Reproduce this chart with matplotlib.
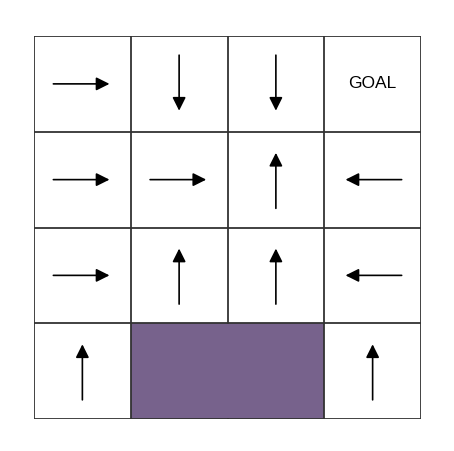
import numpy as np
import matplotlib.pyplot as plt
from matplotlib.patches import Rectangle

# policy grid: R, L, U, D, G (goal), X (wall)
policy = [
    ['R', 'D', 'D', 'G'],
    ['R', 'R', 'U', 'L'],
    ['R', 'U', 'U', 'L'],
    ['U', 'X', 'X', 'U'],
]
n_rows, n_cols = 4, 4
wall_color = '#77628c'
line_color = '#333333'

dirs = {'R': (1, 0), 'L': (-1, 0), 'U': (0, 1), 'D': (0, -1)}

fig = plt.figure(figsize=(4.54, 4.51), dpi=100)
ax = fig.add_axes([34/454, 32/451, 387/454, 383/451])
ax.set_xlim(0, n_cols)
ax.set_ylim(0, n_rows)

def is_wall(r, c):
    return 0 <= r < n_rows and 0 <= c < n_cols and policy[r][c] == 'X'

for r in range(n_rows):
    for c in range(n_cols):
        x, y = c, n_rows - 1 - r
        a = policy[r][c]
        if a == 'X':
            ax.add_patch(Rectangle((x, y), 1, 1, facecolor=wall_color, edgecolor='none', zorder=1))
            continue
        cx, cy = x + 0.5, y + 0.5
        if a == 'G':
            ax.text(cx, cy, 'GOAL', ha='center', va='center', fontsize=12.5,
                    family=['Liberation Sans', 'DejaVu Sans'])
            continue
        dx, dy = dirs[a]
        ax.annotate('', xy=(cx + 0.28*dx, cy + 0.28*dy),
                    xytext=(cx - 0.3*dx, cy - 0.3*dy),
                    arrowprops=dict(arrowstyle='-|>', color='black', lw=1.2,
                                    mutation_scale=20, shrinkA=0, shrinkB=0))

# grid lines, skipping edges between two wall cells
for r in range(n_rows):
    for c in range(n_cols + 1):
        if is_wall(r, c - 1) and is_wall(r, c):
            continue
        y = n_rows - 1 - r
        ax.plot([c, c], [y, y + 1], color=line_color, lw=1.3, zorder=3,
                solid_capstyle='projecting')
for r in range(n_rows + 1):
    for c in range(n_cols):
        if is_wall(r - 1, c) and is_wall(r, c):
            continue
        y = n_rows - r
        ax.plot([c, c + 1], [y, y], color=line_color, lw=1.3, zorder=3,
                solid_capstyle='projecting')

ax.axis('off')
fig.savefig('out.png', dpi=100)
